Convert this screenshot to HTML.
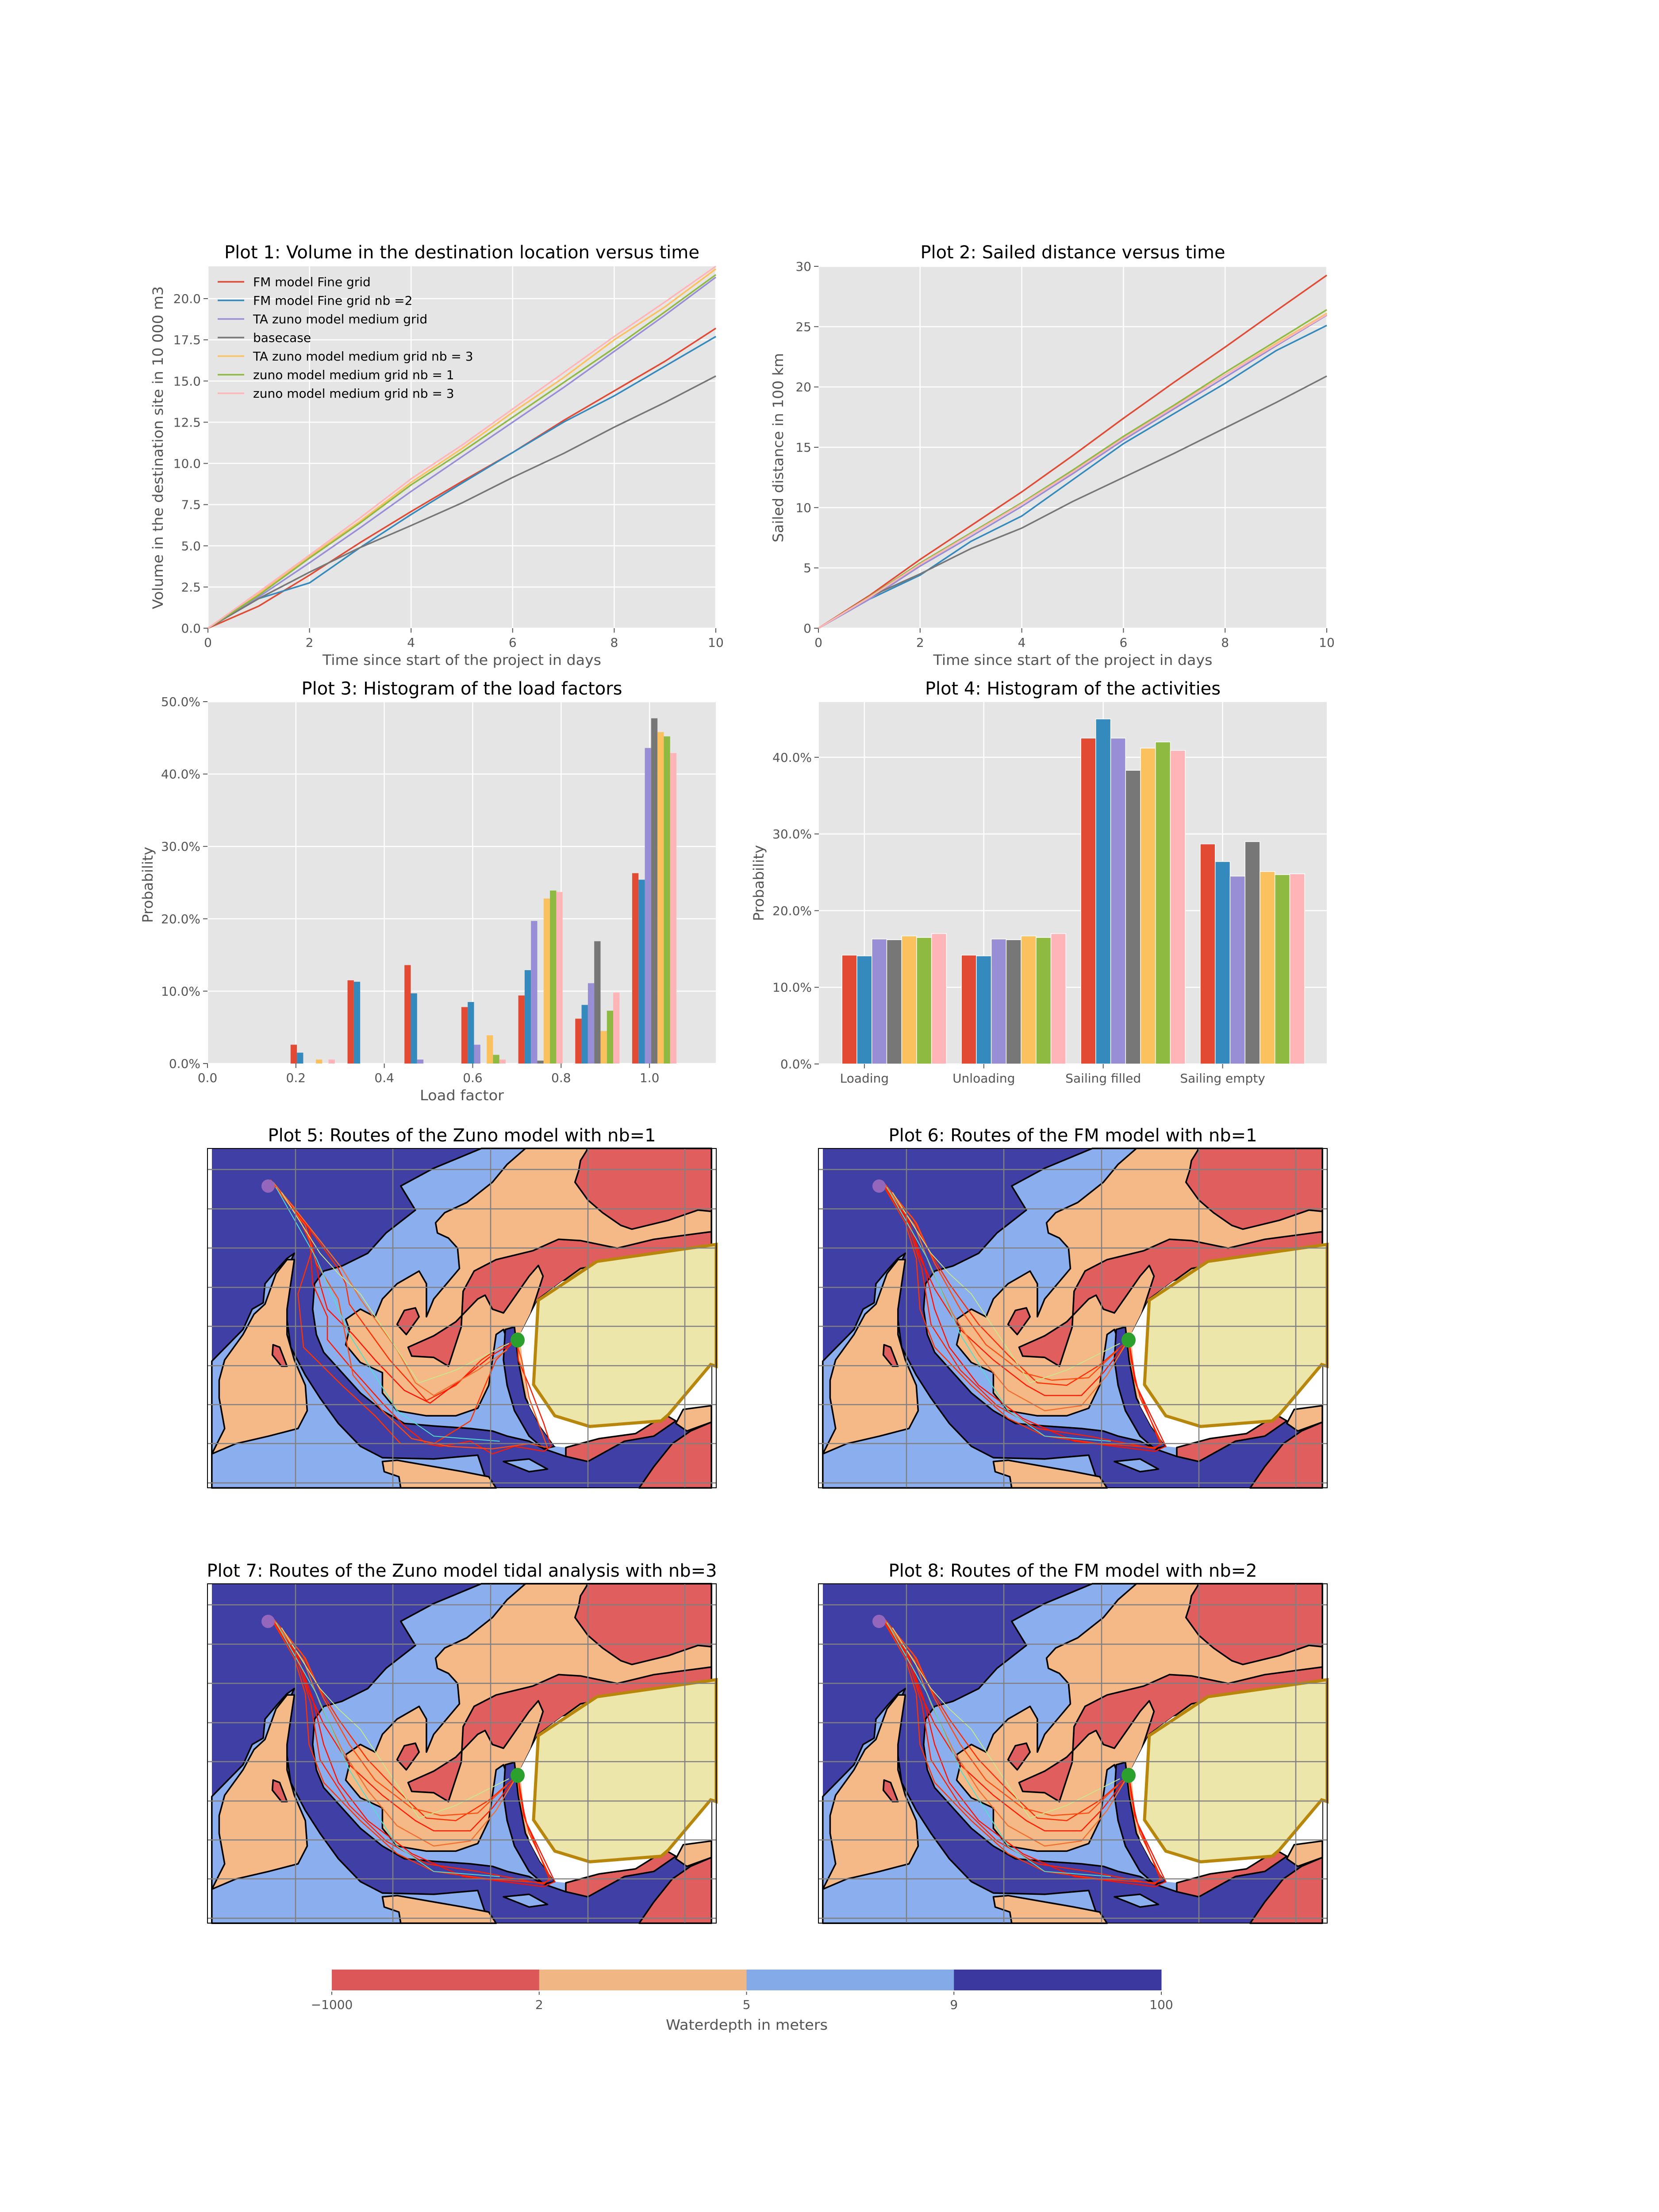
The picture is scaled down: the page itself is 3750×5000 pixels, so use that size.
<!DOCTYPE html>
<html><head><meta charset="utf-8"><title>Dredging simulation results</title>
<style>
html,body{margin:0;padding:0;background:#fff;}
svg{display:block;font-family:"DejaVu Sans","Liberation Sans",sans-serif;}
</style></head>
<body>
<svg id="fig" xmlns="http://www.w3.org/2000/svg" width="3750" height="5000" viewBox="0 0 3750 5000">
<rect x="0" y="0" width="3750" height="5000" fill="#ffffff"/>
<g id="root"></g>
</svg>
<script>
// ---------- Plot 1 data (volume, 10 000 m3) ----------
const p1Days = [0,1,2,3,4,5,6,7,8,9,10];
const p1FmFine = [0,1.34,3.22,5.2,7.08,8.9,10.66,12.6,14.4,16.2,18.2];
const p1FmFineNb2 = [0,1.8,2.75,4.9,6.9,8.8,10.66,12.5,14.1,15.9,17.7];
const p1TaZuno = [0,1.9,3.97,6.1,8.3,10.4,12.5,14.6,16.8,19.0,21.3];
const p1Basecase = [0,1.8,3.4,4.9,6.23,7.6,9.15,10.6,12.2,13.7,15.3];
const p1TaZunoNb3 = [0,2.1,4.35,6.5,8.85,10.9,13.1,15.2,17.5,19.5,21.8];
const p1ZunoNb1 = [0,2.0,4.26,6.4,8.7,10.7,12.8,14.9,17.0,19.2,21.45];
const p1ZunoNb3 = [0,2.2,4.44,6.7,9.06,11.1,13.3,15.5,17.7,19.8,21.96];
const p1YTicks = [0,2.5,5,7.5,10,12.5,15,17.5,20];
const p1XTicks = [0,2,4,6,8,10];
// ---------- Plot 2 data (sailed distance, 100 km) ----------
const p2Days = [0,1,2,3,4,5,6,7,8,9,10];
const p2FmFine = [0,2.7,5.7,8.5,11.3,14.3,17.4,20.4,23.3,26.3,29.26];
const p2FmFineNb2 = [0,2.4,4.4,7.2,9.3,12.3,15.3,17.8,20.3,23.0,25.1];
const p2TaZuno = [0,2.4,5.15,7.6,10.1,12.8,15.6,18.2,20.8,23.4,25.95];
const p2Basecase = [0,2.6,4.5,6.6,8.3,10.5,12.5,14.5,16.6,18.7,20.9];
const p2TaZunoNb3 = [0,2.55,5.3,7.8,10.3,13.0,15.8,18.4,21.0,23.6,26.1];
const p2ZunoNb1 = [0,2.6,5.4,7.9,10.4,13.1,15.9,18.5,21.2,23.8,26.4];
const p2ZunoNb3 = [0,2.55,5.3,7.8,10.3,12.95,15.75,18.35,21.0,23.5,26.0];
const p2YTicks = [0,5,10,15,20,25,30];
const p2XTicks = [0,2,4,6,8,10];
// ---------- Plot 3 data (load factor histogram, %) ----------
const p3BinStarts = [0.188,0.3168,0.4456,0.5744,0.7032,0.832,0.9608];
const p3FmFine = [2.6,11.5,13.6,7.8,9.4,6.2,26.3];
const p3FmFineNb2 = [1.5,11.3,9.7,8.5,12.9,8.1,25.4];
const p3TaZuno = [0,0,0.55,2.6,19.7,11.1,43.6];
const p3Basecase = [0,0,0,0,0.4,16.9,47.7];
const p3TaZunoNb3 = [0.55,0,0,3.9,22.8,4.5,45.8];
const p3ZunoNb1 = [0,0,0,1.2,23.9,7.3,45.2];
const p3ZunoNb3 = [0.55,0,0,0.55,23.7,9.8,42.9];
const p3XTicks = [0,0.2,0.4,0.6,0.8,1.0];
const p3YTicks = [0,10,20,30,40,50];
// ---------- Plot 4 data (activities, %) ----------
const p4Categories = ["Loading","Unloading","Sailing filled","Sailing empty"];
const p4FmFine = [14.2,14.2,42.5,28.7];
const p4FmFineNb2 = [14.1,14.1,45.0,26.4];
const p4TaZuno = [16.3,16.3,42.5,24.5];
const p4Basecase = [16.2,16.2,38.3,29.0];
const p4TaZunoNb3 = [16.7,16.7,41.2,25.1];
const p4ZunoNb1 = [16.5,16.5,42.0,24.7];
const p4ZunoNb3 = [17.0,17.0,40.9,24.8];
const p4YTicks = [0,10,20,30,40];
// ---------- Colorbar ----------
const cbTicks = ["\u22121000","2","5","9","100"];
const cbColors = ["#dc5757","#f0b683","#85aae8","#3b399f"];

const NS="http://www.w3.org/2000/svg";
const root=document.getElementById('root');
const COLORS=["#E24A33","#348ABD","#988ED5","#777777","#FBC15E","#8EBA42","#FFB5B8"];
const NAMES=["fm-model-fine-grid","fm-model-fine-grid-nb2","ta-zuno-medium-grid","basecase","ta-zuno-medium-grid-nb3","zuno-medium-grid-nb1","zuno-medium-grid-nb3"];
function el(tag,parent){const e=document.createElementNS(NS,tag);(parent||root).appendChild(e);return e;}
function sa(e,k,v){e.setAttribute(k,v);return e;}
function txt(parent,x,y,s,size,fill,anchor,len){
  const t=el('text',parent);
  sa(t,'x',x);sa(t,'y',y);sa(t,'font-size',size);sa(t,'fill',fill);sa(t,'text-anchor',anchor||'middle');
  if(len){sa(t,'textLength',len);sa(t,'lengthAdjust','spacingAndGlyphs');}
  t.textContent=s;return t;
}
function axesBg(g,x0,y0,w,h){
  const r=el('rect',g);sa(r,'x',x0);sa(r,'y',y0);sa(r,'width',w);sa(r,'height',h);sa(r,'fill','#E5E5E5');
  
  
}
function gridV(g,x,y0,y1){const l=el('line',g);sa(l,'x1',x);sa(l,'x2',x);sa(l,'y1',y0);sa(l,'y2',y1);sa(l,'stroke','#fff');sa(l,'stroke-width',2.5);
  
  }
function gridH(g,y,x0,x1){const l=el('line',g);sa(l,'x1',x0);sa(l,'x2',x1);sa(l,'y1',y);sa(l,'y2',y);sa(l,'stroke','#fff');sa(l,'stroke-width',2.5);
  
  }
function tickX(g,x,y,label){const l=el('line',g);sa(l,'x1',x);sa(l,'x2',x);sa(l,'y1',y);sa(l,'y2',y+10);sa(l,'stroke','#555');sa(l,'stroke-width',2);
  
  
  const t=txt(g,x,y+42,label,28,'#555','middle');
  
  }
function tickY(g,x,y,label){const l=el('line',g);sa(l,'x1',x-10);sa(l,'x2',x);sa(l,'y1',y);sa(l,'y2',y);sa(l,'stroke','#555');sa(l,'stroke-width',2);
  
  
  const t=txt(g,x-16,y+10,label,28,'#555','end');
  
  }
function title(g,cx,y,s,len){const t=txt(g,cx,y,s,40,'#000','middle',len);
  
  }
function xlabel(g,cx,y,s,len){const t=txt(g,cx,y,s,32,'#555','middle',len);
  
  }
function ylabel(g,cx,cy,s,len){const t=txt(g,0,0,s,32,'#555','middle',len);sa(t,'transform','translate('+cx+','+cy+') rotate(-90)');
  
  }

// ---------- line charts ----------
function lineChart(cfg){
  const g=el('g');
  
  
  const X=v=>cfg.x0+(v-cfg.xmin)/(cfg.xmax-cfg.xmin)*cfg.w;
  const Y=v=>cfg.y0+cfg.h-(v-cfg.ymin)/(cfg.ymax-cfg.ymin)*cfg.h;
  axesBg(g,cfg.x0,cfg.y0,cfg.w,cfg.h);
  cfg.xticks.forEach(v=>gridV(g,X(v),cfg.y0,cfg.y0+cfg.h));
  cfg.yticks.forEach(v=>gridH(g,Y(v),cfg.x0,cfg.x0+cfg.w));
  cfg.xticks.forEach(v=>tickX(g,X(v),cfg.y0+cfg.h,String(v)));
  cfg.yticks.forEach(v=>tickY(g,cfg.x0,Y(v),cfg.yfmt(v)));
  cfg.series.forEach((s,i)=>{
    let pts=[];
    for(let k=0;k<cfg.xs.length;k++){
      pts.push(X(cfg.xs[k])+','+Y(s[k]));
    }
    const p=el('polyline',g);sa(p,'points',pts.join(' '));sa(p,'fill','none');sa(p,'stroke',COLORS[i]);sa(p,'stroke-width',3.5);sa(p,'stroke-linejoin','round');
    
    
  });
  return g;
}
const legendLabels=["FM model Fine grid","FM model Fine grid nb =2","TA zuno model medium grid","basecase","TA zuno model medium grid nb = 3","zuno model medium grid nb = 1","zuno model medium grid nb = 3"];
const g1=lineChart({name:'plot-1-volume',x0:470,y0:602,w:1148,h:818,xmin:0,xmax:10,ymin:0,ymax:21.96,xs:p1Days,
  series:[p1FmFine,p1FmFineNb2,p1TaZuno,p1Basecase,p1TaZunoNb3,p1ZunoNb1,p1ZunoNb3],xticks:p1XTicks,yticks:p1YTicks,yfmt:v=>v.toFixed(1)});
title(g1,1044,584,"Plot 1: Volume in the destination location versus time",1074);
xlabel(g1,1044,1503,"Time since start of the project in days",630);
ylabel(g1,368,1012,"Volume in the destination site in 10 000 m3",730);
const leg=el('g',g1);


legendLabels.forEach((s,i)=>{
  const y=637+i*42;
  const l=el('line',leg);sa(l,'x1',492);sa(l,'x2',552);sa(l,'y1',y);sa(l,'y2',y);sa(l,'stroke',COLORS[i]);sa(l,'stroke-width',3.5);
  
  
  const t=txt(leg,572,y+10,s,28,'#000','start');
  
  
});

const g2=lineChart({name:'plot-2-sailed-distance',x0:1850,y0:602,w:1149,h:818,xmin:0,xmax:10,ymin:0,ymax:30,xs:p2Days,
  series:[p2FmFine,p2FmFineNb2,p2TaZuno,p2Basecase,p2TaZunoNb3,p2ZunoNb1,p2ZunoNb3],xticks:p2XTicks,yticks:p2YTicks,yfmt:v=>String(v)});
title(g2,2425,584,"Plot 2: Sailed distance versus time",689);
xlabel(g2,2425,1503,"Time since start of the project in days",631);
ylabel(g2,1770,1012,"Sailed distance in 100 km",428);

// ---------- Plot 3 ----------
(function(){
  const g=el('g');
  
  
  const x0=469,y0=1586,w=1149,h=818,xmax=1.15,ymax=50;
  const X=v=>x0+v/xmax*w, Y=v=>y0+h-v/ymax*h;
  axesBg(g,x0,y0,w,h);
  p3XTicks.forEach(v=>gridV(g,X(v),y0,y0+h));
  p3YTicks.forEach(v=>gridH(g,Y(v),x0,x0+w));
  const series=[p3FmFine,p3FmFineNb2,p3TaZuno,p3Basecase,p3TaZunoNb3,p3ZunoNb1,p3ZunoNb3];
  const bw=(p3BinStarts[1]-p3BinStarts[0])/9;
  series.forEach((s,i)=>s.forEach((v,b)=>{
    if(v<=0)return;
    const r=el('rect',g);const xa=X(p3BinStarts[b]+i*bw);
    sa(r,'x',xa);sa(r,'width',X(p3BinStarts[b]+(i+1)*bw)-xa);sa(r,'y',Y(v));sa(r,'height',Y(0)-Y(v));sa(r,'fill',COLORS[i]);
    
    
  }));
  p3XTicks.forEach(v=>tickX(g,X(v),y0+h,v.toFixed(1)));
  p3YTicks.forEach(v=>tickY(g,x0,Y(v),v.toFixed(1)+'%'));
  title(g,1044,1570,"Plot 3: Histogram of the load factors",725);
  xlabel(g,1044,2487,"Load factor",190);
  ylabel(g,345,2000,"Probability",172);
})();

// ---------- Plot 4 ----------
(function(){
  const g=el('g');
  
  
  const x0=1851,y0=1587,w=1148,h=818,xmin=-0.381,xmax=3.872,ymax=47.2;
  const X=v=>x0+(v-xmin)/(xmax-xmin)*w, Y=v=>y0+h-v/ymax*h;
  axesBg(g,x0,y0,w,h);
  p4Categories.forEach((c,i)=>gridV(g,X(i),y0,y0+h));
  p4YTicks.forEach(v=>gridH(g,Y(v),x0,x0+w));
  const series=[p4FmFine,p4FmFineNb2,p4TaZuno,p4Basecase,p4TaZunoNb3,p4ZunoNb1,p4ZunoNb3];
  const bw=0.125;
  series.forEach((s,i)=>s.forEach((v,c)=>{
    const r=el('rect',g);const xa=X(c+(i-1)*bw-bw/2);
    sa(r,'x',xa);sa(r,'width',X(c+(i-1)*bw+bw/2)-xa);sa(r,'y',Y(v));sa(r,'height',Y(0)-Y(v));sa(r,'fill',COLORS[i]);sa(r,'stroke','#fff');sa(r,'stroke-width',1.5);
    
    
  }));
  p4Categories.forEach((c,i)=>tickX(g,X(i),y0+h,c));
  p4YTicks.forEach(v=>tickY(g,x0,Y(v),v.toFixed(1)+'%'));
  title(g,2425,1570,"Plot 4: Histogram of the activities",668);
  ylabel(g,1726,1996,"Probability",172);
})();

// ---------- Maps ----------
function L(pts){return pts.map(p=>(p[0]*0.8292-69).toFixed(1)+','+(p[1]*0.574-96).toFixed(1)).join(' ');}
const mapLayers=[
 ['lb',[[95,1005],[180,880],[205,800],[235,775],[240,700],[275,640],[300,600],[320,580],[300,640],[296,800],[310,950],[350,1060],[390,1150],[440,1250],[500,1340],[560,1385],[700,1390],[820,1375],[850,1504],[95,1504]]],
 ['or',[[95,1370],[160,1330],[250,1300],[330,1270],[355,1200],[350,1100],[320,1000],[300,900],[300,800],[310,700],[320,605],[300,605],[270,660],[240,780],[210,820],[180,900],[130,1000],[115,1080],[115,1150],[130,1270]]],
 ['rd',[[262,940],[280,950],[300,1025],[285,1025],[260,980]]],
 ['lb',[[830,167],[1457,167],[1457,1240],[1380,1250],[1340,1230],[1300,1260],[1200,1300],[1120,1390],[1060,1380],[1000,1350],[960,1320],[900,1300],[860,1280],[800,1270],[700,1260],[620,1250],[560,1200],[500,1130],[450,1050],[400,970],[380,900],[370,800],[375,700],[400,650],[450,630],[520,580],[570,500],[650,410],[610,315],[700,245]]],
 ['or',[[950,167],[1457,167],[1457,1180],[1420,1185],[1380,1250],[1330,1215],[1300,1240],[1200,1290],[1130,1370],[1060,1340],[1000,1300],[960,1230],[940,1130],[920,1020],[900,920],[890,880],[870,900],[860,1000],[850,1100],[820,1190],[760,1220],[680,1220],[600,1200],[560,1130],[560,1050],[500,1010],[460,940],[470,880],[460,840],[500,800],[540,830],[560,760],[600,700],[660,650],[680,700],[680,830],[700,760],[770,640],[765,560],[740,520],[710,500],[705,460],[730,420],[790,380],[860,300],[900,230]]],
 ['db',[[895,880],[920,870],[930,1000],[950,1150],[990,1260],[1030,1340],[1000,1350],[960,1300],[920,1200],[900,1100],[890,1000]]],
 ['rd',[[1120,167],[1457,167],[1457,415],[1420,410],[1340,450],[1240,485],[1210,470],[1160,420],[1120,370],[1085,300],[1095,255],[1100,215],[1115,180]]],
 ['rd',[[1457,495],[1300,525],[1200,560],[1100,530],[1040,525],[970,570],[870,605],[810,650],[780,730],[775,870],[740,1025],[700,990],[640,985],[630,950],[700,905],[760,850],[820,760],[840,745],[860,800],[890,815],[960,670],[985,628],[998,670],[960,840],[940,890],[985,760],[1100,640],[1457,545]]],
 ['rd',[[600,860],[625,900],[660,830],[650,795],[620,805]]],
 ['wh',[[935,900],[985,760],[1050,690],[1457,560],[1457,1180],[1420,1185],[1380,1250],[1340,1230],[1300,1240],[1250,1290],[1150,1310],[1060,1345],[1030,1340],[990,1260],[960,1180],[945,1050]]],
 ['rd',[[1060,1345],[1150,1310],[1250,1290],[1300,1245],[1330,1215],[1360,1240],[1300,1300],[1220,1320],[1120,1400],[1060,1380]]],
 ['or',[[1380,1195],[1457,1180],[1457,1245],[1390,1280],[1360,1250]]],
 ['rd',[[1260,1504],[1300,1420],[1350,1330],[1400,1280],[1457,1245],[1457,1504]]],
 ['or',[[560,1400],[600,1395],[700,1420],[780,1440],[850,1460],[870,1504],[610,1504],[605,1460],[565,1440]]],
 ['lb',[[890,1400],[960,1390],[1010,1430],[960,1440]]],
 ['ye',[[985,765],[1145,612],[1470,545],[1470,1025],[1455,1018],[1340,1215],[1320,1240],[1125,1262],[1030,1220],[972,1097]]]
];
const mapFill={lb:'#8aaeee',or:'#f5b887',rd:'#e05e5e',db:'#3f3fa5',wh:'#ffffff',ye:'#ede6aa'};
const mapLayerNames={lb:'depth-5-9-region',or:'depth-2-5-region',rd:'depth-below-2-region',db:'depth-over-9-region',wh:'land-region',ye:'reclamation-area'};
const routesA=[
 [[255,290],[360,480],[370,700],[410,830],[410,920],[480,1040],[560,1170],[620,1260],[680,1330],[720,1340],[800,1320],[860,1370],[920,1340],[1000,1360],[1020,1340],[1000,1250],[960,1100],[930,1000],[928,922]],
 [[255,290],[380,520],[440,640],[460,700],[470,780],[580,1000],[680,1160],[760,1100],[830,1000],[880,950],[928,922]],
 [[255,290],[320,400],[370,560],[330,740],[345,950],[450,1100],[540,1220],[610,1330],[700,1330],[800,1240],[840,1100],[870,1000],[910,940]],
 [[260,300],[360,480],[390,700],[410,800],[480,900],[540,1000],[620,1120],[690,1170],[800,1050],[860,980],[920,930]],
 [[258,300],[350,470],[380,620],[440,760],[480,1060],[560,1200],[640,1310],[740,1340],[860,1350],[960,1330],[1010,1345],[960,1150],[940,1000],[925,930]],
 [[262,300],[330,420],[450,640],[500,760],[600,960],[650,1090],[700,1140],[820,1040],[900,960]]
];
const routesB=[
 [[255,300],[330,450],[356,583],[400,720],[470,880],[560,1000],[650,1100],[700,1140],[800,1140],[860,1050],[929,921]],
 [[255,300],[340,440],[380,560],[440,700],[520,860],[600,980],[680,1090],[760,1100],[850,1020],[929,921]],
 [[255,300],[320,460],[350,600],[360,800],[400,950],[500,1100],[600,1230],[700,1300],[850,1330],[1000,1345],[1020,1330],[960,1150],[935,1000],[929,921]],
 [[255,300],[330,460],[370,620],[400,800],[440,950],[520,1100],[640,1230],[780,1320],[1000,1360],[1030,1340],[950,1100],[929,921]],
 [[260,300],[350,460],[400,620],[470,800],[540,940],[640,1050],[720,1080],[820,1070],[900,960]],
 [[258,300],[345,470],[390,640],[450,820],[520,980],[600,1120],[700,1200],[800,1180],[870,1060],[920,940]],
 [[256,300],[325,455],[365,640],[390,860],[470,1040],[570,1180],[680,1270],[820,1300],[1000,1350],[1015,1330],[945,1080],[929,925]]
];
const routeColors=['#ff1a00','#ff2a00','#ff3300','#ff1000','#ff4a10','#f07030','#ff2000'];
function drawMap(name,tx,ty,ttl,tlen,routes){
  const g=el('g');sa(g,'transform','translate('+tx+','+ty+')');
  
  
  const bg=el('rect',g);sa(bg,'x',0);sa(bg,'y',0);sa(bg,'width',1150);sa(bg,'height',767);sa(bg,'fill','#fff');
  
  
  const db=el('rect',g);sa(db,'x',10);sa(db,'y',0);sa(db,'width',1129);sa(db,'height',767);sa(db,'fill','#3f3fa5');
  
  
  mapLayers.forEach(ly=>{
    const p=el('polygon',g);sa(p,'points',L(ly[1]));sa(p,'fill',mapFill[ly[0]]);
    if(ly[0]==='ye'){sa(p,'stroke','#b8860b');sa(p,'stroke-width',7);}
    else if(ly[0]!=='wh'){sa(p,'stroke','#000');sa(p,'stroke-width',3.5);sa(p,'stroke-linejoin','round');}
    
    
  });
  routes.forEach((r,i)=>{
    const p=el('polyline',g);sa(p,'points',L(r));sa(p,'fill','none');sa(p,'stroke',routeColors[i%routeColors.length]);sa(p,'stroke-width',2.5);
    
    
  });
  [[[285,340],[390,580],[440,660],[500,740],[660,1090],[760,1040],[905,935]],[[270,320],[380,600],[470,900],[600,1200],[700,1300],[880,1320]]].forEach((r,i)=>{
    const p=el('polyline',g);sa(p,'points',L(r));sa(p,'fill','none');sa(p,'stroke',i?'#50e0d0':'#c8e68c');sa(p,'stroke-width',2);
    
    
  });
  [199,419,640,860,1079].forEach(x=>{const l=el('line',g);sa(l,'x1',x);sa(l,'x2',x);sa(l,'y1',0);sa(l,'y2',767);sa(l,'stroke','#808080');sa(l,'stroke-width',2.5);
    
    });
  [47.5,136.5,225,314,402,491,579,667,756].forEach(y=>{const l=el('line',g);sa(l,'x1',0);sa(l,'x2',1150);sa(l,'y1',y);sa(l,'y2',y);sa(l,'stroke','#808080');sa(l,'stroke-width',2.5);
    
    });
  const o=el('ellipse',g);sa(o,'cx',137);sa(o,'cy',85);sa(o,'rx',15);sa(o,'ry',15);sa(o,'fill','#9467bd');
  
  
  const d=el('ellipse',g);sa(d,'cx',701);sa(d,'cy',433);sa(d,'rx',16);sa(d,'ry',17);sa(d,'fill','#2ca02c');
  
  
  const f=el('rect',g);sa(f,'x',0);sa(f,'y',0);sa(f,'width',1150);sa(f,'height',767);sa(f,'fill','none');sa(f,'stroke','#000');sa(f,'stroke-width',2);
  
  
  title(g,575,-16,ttl,tlen);
}
drawMap('plot-5-map',469,2596,"Plot 5: Routes of the Zuno model with nb=1",877,routesA);
drawMap('plot-6-map',1850,2596,"Plot 6: Routes of the FM model with nb=1",833,routesB);
drawMap('plot-7-map',469,3580,"Plot 7: Routes of the Zuno model tidal analysis with nb=3",1153,routesB);
drawMap('plot-8-map',1850,3580,"Plot 8: Routes of the FM model with nb=2",833,routesB);

// ---------- Colorbar ----------
(function(){
  const g=el('g');
  
  
  const x0=750,x1=2625,y0=4452,h=47;const seg=(x1-x0)/cbColors.length;
  cbColors.forEach((c,i)=>{const r=el('rect',g);sa(r,'x',x0+i*seg);sa(r,'y',y0);sa(r,'width',seg+0.5);sa(r,'height',h);sa(r,'fill',c);
    
    });
  cbTicks.forEach((s,i)=>{const x=x0+i*seg;const l=el('line',g);sa(l,'x1',x);sa(l,'x2',x);sa(l,'y1',y0+h+3);sa(l,'y2',y0+h+10);sa(l,'stroke','#555');sa(l,'stroke-width',2);
    
    
    const t=txt(g,x,4541,s,28,'#555','middle');
    
    });
  const t=txt(g,1688,4588,"Waterdepth in meters",32,'#555','middle',366);
  
  
})();
</script>
</body></html>
